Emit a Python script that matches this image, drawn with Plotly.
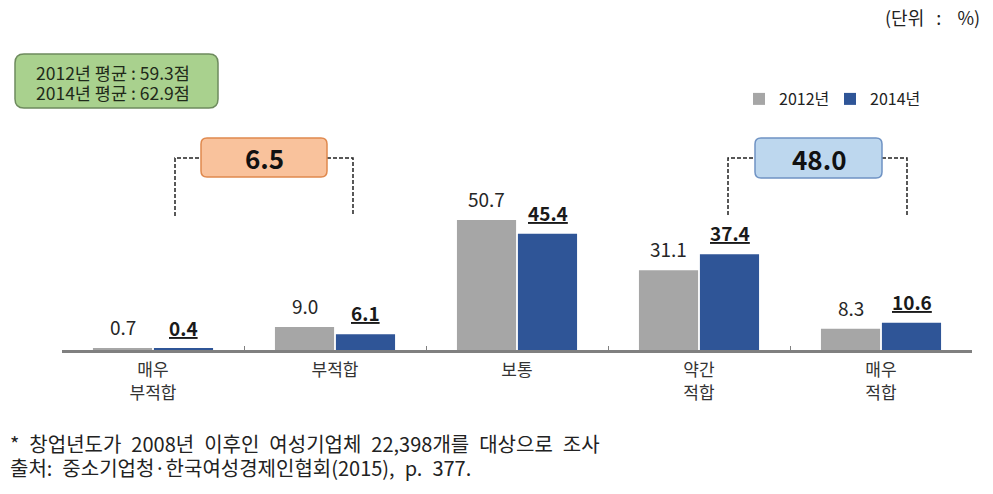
import plotly.graph_objects as go

categories = ["매우<br>부적합", "부적합", "보통", "약간<br>적합", "매우<br>적합"]
series_names = ["2012년", "2014년"]
values_2012 = [0.7, 9.0, 50.7, 31.1, 8.3]
values_2014 = [0.4, 6.1, 45.4, 37.4, 10.6]
avg_text = ["2012년 평균 : 59.3점", "2014년 평균 : 62.9점"]
gap_labels = ["6.5", "48.0"]
footnotes = ["* 창업년도가 2008년 이후인 여성기업체 22,398개를 대상으로 조사",
             "출처: 중소기업청·한국여성경제인협회(2015), p. 377."]
unit_text = "(단위\u00a0\u00a0\u00a0:\u00a0\u00a0\u00a0\u00a0%)"

W, H = 993, 494
ML, MR, MT, MB = 62, 21, 40, 144
PW, PH = W - ML - MR, H - MT - MB
YMAX = 121

FONT = "Noto Sans CJK KR"
GRAY = "#A6A6A6"
BLUE = "#2F5597"


def px(xp):
    return (xp - ML) / PW


def py(yp):
    return (H - MB - yp) / PH


def rrect(x0, y0, x1, y1, r):
    def P(x, y):
        return f"{px(x):.5f},{py(y):.5f}"
    return (f"M{P(x0 + r, y0)} L{P(x1 - r, y0)} Q{P(x1, y0)} {P(x1, y0 + r)} "
            f"L{P(x1, y1 - r)} Q{P(x1, y1)} {P(x1 - r, y1)} "
            f"L{P(x0 + r, y1)} Q{P(x0, y1)} {P(x0, y1 - r)} "
            f"L{P(x0, y0 + r)} Q{P(x0, y0)} {P(x0 + r, y0)} Z")


def polyline(pts):
    return "M" + " L".join(f"{px(x):.5f},{py(y):.5f}" for x, y in pts)


def note(xp, yp, text, size, color="#222222", xanchor="center", yanchor="middle", align="center"):
    return dict(x=px(xp), y=py(yp), xref="paper", yref="paper", text=text,
                showarrow=False, xanchor=xanchor, yanchor=yanchor, align=align,
                borderpad=0, font=dict(size=size, color=color, family=FONT))


fig = go.Figure()
fig.add_trace(go.Bar(x=categories, y=values_2012, name=series_names[0],
                     marker=dict(color=GRAY, line=dict(width=0))))
fig.add_trace(go.Bar(x=categories, y=values_2014, name=series_names[1],
                     marker=dict(color=BLUE, line=dict(width=0))))

annotations = []
for i, c in enumerate(categories):
    annotations.append(dict(x=c, y=values_2012[i], xref="x", yref="y",
                            text=f"{values_2012[i]:.1f}", showarrow=False,
                            xshift=-30.5, yshift=6, xanchor="center", yanchor="bottom",
                            font=dict(size=19, color="#262626", family=FONT)))
    annotations.append(dict(x=c, y=values_2014[i], xref="x", yref="y",
                            text=f"<u><b>{values_2014[i]:.1f}</b></u>", showarrow=False,
                            xshift=30.5, yshift=6, xanchor="center", yanchor="bottom",
                            font=dict(size=19, color="#1a1a1a", family=FONT)))

shapes = []
dash = dict(color="#222222", width=1.5, dash="4px,2px")
shapes.append(dict(type="path", xref="paper", yref="paper",
                   path=polyline([(175, 216), (175, 158), (201, 158)]), line=dash))
shapes.append(dict(type="path", xref="paper", yref="paper",
                   path=polyline([(327, 158), (353, 158), (353, 216)]), line=dash))
shapes.append(dict(type="path", xref="paper", yref="paper",
                   path=polyline([(728, 215), (728, 158), (755, 158)]), line=dash))
shapes.append(dict(type="path", xref="paper", yref="paper",
                   path=polyline([(882, 158), (907, 158), (907, 215)]), line=dash))
shapes.append(dict(type="path", xref="paper", yref="paper",
                   path=rrect(201, 138, 327, 177, 6),
                   fillcolor="#F9C29C", line=dict(color="#E0894E", width=1.5)))
shapes.append(dict(type="path", xref="paper", yref="paper",
                   path=rrect(755, 138, 882, 178, 6),
                   fillcolor="#BDD7EE", line=dict(color="#6F93C4", width=1.5)))
shapes.append(dict(type="path", xref="paper", yref="paper",
                   path=rrect(15, 54, 218, 108, 9),
                   fillcolor="#A9D18E", line=dict(color="#6E8B5E", width=1.5)))

annotations.append(note(264, 157.5, f"<b>{gap_labels[0]}</b>", 26, "#111111"))
annotations.append(note(818.5, 158, f"<b>{gap_labels[1]}</b>", 26, "#111111"))
annotations.append(note(113, 72, avg_text[0], 17.5, "#1f2a1a"))
annotations.append(note(113, 92, avg_text[1], 17.5, "#1f2a1a"))
annotations.append(note(981, 17, unit_text, 18, "#222222", xanchor="right"))
fn = [f.replace(" ", "\u2002") for f in footnotes]
annotations.append(note(9, 443, fn[0], 20, "#222222", xanchor="left", align="left"))
annotations.append(note(9, 467, fn[1], 20, "#222222", xanchor="left", align="left"))

fig.update_layout(
    width=W, height=H,
    margin=dict(l=ML, r=MR, t=MT, b=MB),
    paper_bgcolor="white", plot_bgcolor="white",
    barmode="group", bargap=0.33, bargroupgap=0.03,
    font=dict(family=FONT, color="#333333"),
    showlegend=True,
    legend=dict(orientation="h", x=px(739), y=py(99), xanchor="left", yanchor="middle",
                font=dict(size=16, color="#222222", family=FONT),
                bgcolor="rgba(0,0,0,0)", itemwidth=30, entrywidth=46,
                traceorder="normal"),
    shapes=shapes, annotations=annotations,
)
fig.update_xaxes(type="category", showline=True, linecolor="#808080", linewidth=3,
                 ticks="inside", tickson="boundaries", ticklen=4, tickcolor="#808080",
                 tickwidth=1, showgrid=False, zeroline=False,
                 tickfont=dict(size=17, color="#333333", family=FONT),
                 ticklabelstandoff=3, range=[-0.5, 4.5], fixedrange=True)
fig.update_yaxes(range=[0, YMAX], visible=False, showgrid=False, zeroline=False,
                 fixedrange=True)

fig.write_html("out.html")
